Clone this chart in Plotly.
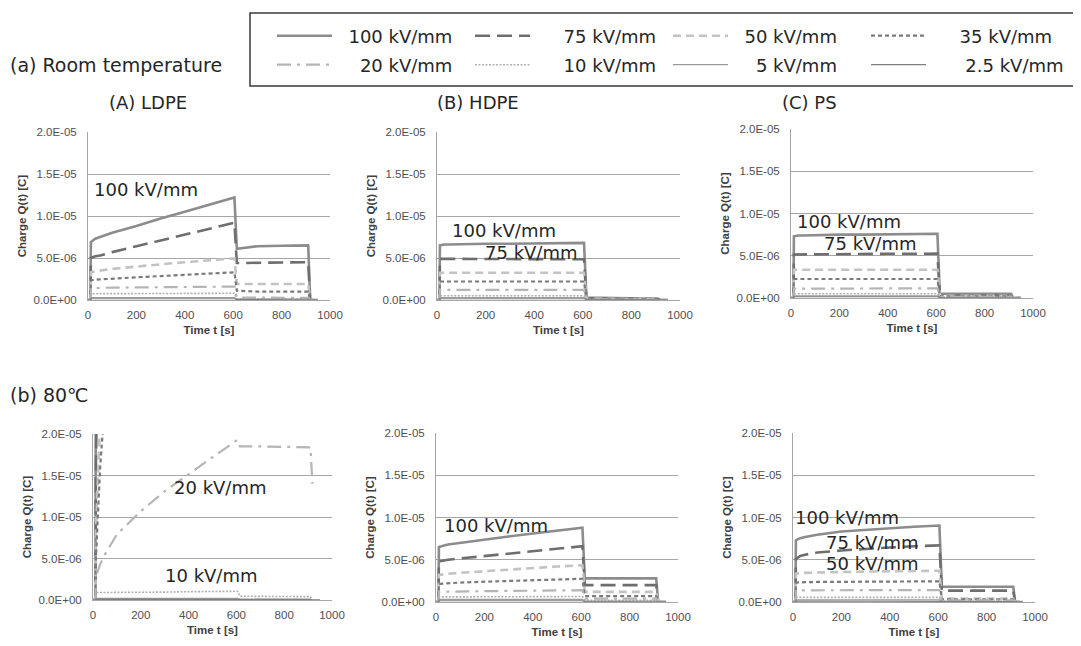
import plotly.graph_objects as go

# window size and the browser's default page margin the figure sits inside
WIN_W, WIN_H = 1081, 646
OX, OY = 8, 8
W, H = WIN_W - OX, WIN_H - OY

# ---------------- data (charge in units of 1e-6 C) ----------------
TIME_S = [0, 10, 12, 20, 30, 50, 100, 200, 300, 400, 500, 605, 615, 700, 800, 910, 918, 950]

FIELDS = ["100 kV/mm", "75 kV/mm", "50 kV/mm", "35 kV/mm",
          "20 kV/mm", "10 kV/mm", "5 kV/mm", "2.5 kV/mm"]

X_TICKS = [0, 200, 400, 600, 800, 1000]
Y_TICKS = [0, 5e-6, 1e-5, 1.5e-5, 2e-5]
Y_TICKTEXT = ["0.0E+00", "5.0E-06", "1.0E-05", "1.5E-05", "2.0E-05"]

# (a) Room temperature, (A) LDPE
LDPE_RT_uC = [
    [0, 0, 6.9, 7.1, 7.3, 7.5, 8.0, 8.8, 9.7, 10.5, 11.3, 12.2, 6.1, 6.4, 6.45, 6.5, 0, 0],
    [0, 0, 5.0, 5.1, 5.2, 5.3, 5.7, 6.4, 7.1, 7.8, 8.5, 9.2, 4.4, 4.45, 4.5, 4.5, 0, 0],
    [0, 0, 3.3, 3.35, 3.4, 3.5, 3.7, 4.0, 4.25, 4.5, 4.7, 4.95, 1.9, 1.9, 1.9, 1.9, 0, 0],
    [0, 0, 2.35, 2.4, 2.4, 2.45, 2.55, 2.7, 2.85, 3.0, 3.15, 3.3, 1.1, 1.0, 1.0, 1.0, 0, 0],
    [0, 0, 1.4, 1.42, 1.44, 1.45, 1.47, 1.5, 1.52, 1.55, 1.57, 1.6, 0.3, 0.28, 0.27, 0.25, 0, 0],
    [0, 0, 0.75, 0.75, 0.76, 0.76, 0.77, 0.78, 0.79, 0.8, 0.8, 0.8, 0.15, 0.15, 0.15, 0.15, 0, 0],
    [0, 0, 0.3, 0.3, 0.3, 0.3, 0.3, 0.3, 0.3, 0.3, 0.3, 0.3, 0.1, 0.1, 0.1, 0.1, 0, 0],
    [0, 0, 0.15, 0.15, 0.15, 0.15, 0.15, 0.15, 0.15, 0.15, 0.15, 0.15, 0.05, 0.05, 0.05, 0.05, 0, 0],
]
# (a) Room temperature, (B) HDPE
HDPE_RT_uC = [
    [0, 0, 6.5, 6.55, 6.6, 6.6, 6.65, 6.7, 6.7, 6.75, 6.8, 6.8, 0.3, 0.25, 0.2, 0.15, 0, 0],
    [0, 0, 4.9, 4.9, 4.9, 4.9, 4.9, 4.9, 4.88, 4.87, 4.86, 4.85, 0.2, 0.18, 0.15, 0.12, 0, 0],
    [0, 0, 3.25, 3.25, 3.25, 3.25, 3.25, 3.25, 3.25, 3.25, 3.25, 3.25, 0.15, 0.13, 0.12, 0.1, 0, 0],
    [0, 0, 2.2, 2.2, 2.2, 2.2, 2.2, 2.2, 2.2, 2.2, 2.2, 2.2, 0.12, 0.1, 0.1, 0.08, 0, 0],
    [0, 0, 1.2, 1.2, 1.2, 1.2, 1.2, 1.2, 1.2, 1.2, 1.2, 1.2, 0.1, 0.08, 0.08, 0.06, 0, 0],
    [0, 0, 0.5, 0.5, 0.5, 0.5, 0.5, 0.5, 0.5, 0.5, 0.5, 0.5, 0.08, 0.07, 0.06, 0.05, 0, 0],
    [0, 0, 0.3, 0.3, 0.3, 0.3, 0.3, 0.3, 0.3, 0.3, 0.3, 0.3, 0.05, 0.05, 0.05, 0.05, 0, 0],
    [0, 0, 0.15, 0.15, 0.15, 0.15, 0.15, 0.15, 0.15, 0.15, 0.15, 0.15, 0.05, 0.05, 0.05, 0.05, 0, 0],
]
# (a) Room temperature, (C) PS
PS_RT_uC = [
    [0, 0, 7.3, 7.35, 7.4, 7.4, 7.45, 7.5, 7.5, 7.55, 7.6, 7.6, 0.5, 0.5, 0.5, 0.5, 0, 0],
    [0, 0, 5.15, 5.15, 5.17, 5.18, 5.2, 5.2, 5.22, 5.23, 5.24, 5.25, 0.3, 0.3, 0.3, 0.3, 0, 0],
    [0, 0, 3.35, 3.35, 3.35, 3.35, 3.35, 3.35, 3.35, 3.35, 3.35, 3.35, 0.25, 0.25, 0.25, 0.25, 0, 0],
    [0, 0, 2.25, 2.25, 2.25, 2.25, 2.25, 2.25, 2.25, 2.25, 2.25, 2.25, 0.2, 0.2, 0.2, 0.2, 0, 0],
    [0, 0, 1.1, 1.1, 1.1, 1.1, 1.11, 1.12, 1.13, 1.14, 1.15, 1.15, 0.15, 0.15, 0.15, 0.15, 0, 0],
    [0, 0, 0.5, 0.5, 0.5, 0.5, 0.5, 0.5, 0.5, 0.5, 0.5, 0.5, 0.1, 0.1, 0.1, 0.1, 0, 0],
    [0, 0, 0.25, 0.25, 0.25, 0.25, 0.25, 0.25, 0.25, 0.25, 0.25, 0.25, 0.05, 0.05, 0.05, 0.05, 0, 0],
    [0, 0, 0.15, 0.15, 0.15, 0.15, 0.15, 0.15, 0.15, 0.15, 0.15, 0.15, 0.05, 0.05, 0.05, 0.05, 0, 0],
]
# (b) 80 C, (A) LDPE  (None = beyond the shown record)
LDPE_80_uC = [
    [0, 0, 30, None, None, None, None, None, None, None, None, None, None, None, None, None, None, None],
    [0, 0, 16, 30, None, None, None, None, None, None, None, None, None, None, None, None, None, None],
    [0, 0, 8, 15, 22, None, None, None, None, None, None, None, None, None, None, None, None, None],
    [0, 0, 5, 10, 16, 24, None, None, None, None, None, None, None, None, None, None, None, None],
    [0, 0, 2.5, 3.5, 4.3, 5.5, 7.9, 10.7, 13.1, 15.2, 17.2, 19.3, 18.5, 18.5, 18.45, 18.4, 14.0, None],
    [0, 0, 0.9, 0.9, 0.9, 0.9, 0.9, 0.95, 0.95, 1.0, 1.0, 1.05, 0.45, 0.45, 0.42, 0.4, 0, 0],
    [0, 0, 0.2, 0.2, 0.2, 0.2, 0.2, 0.2, 0.2, 0.2, 0.2, 0.2, 0.1, 0.1, 0.1, 0.1, 0, 0],
    [0, 0, 0.1, 0.1, 0.1, 0.1, 0.1, 0.1, 0.1, 0.1, 0.1, 0.1, 0.05, 0.05, 0.05, 0.05, 0, 0],
]
# (b) 80 C, (B) HDPE
HDPE_80_uC = [
    [0, 0, 6.5, 6.6, 6.65, 6.8, 7.0, 7.4, 7.75, 8.1, 8.45, 8.8, 2.8, 2.8, 2.8, 2.8, 0, 0],
    [0, 0, 4.8, 4.85, 4.9, 5.0, 5.15, 5.45, 5.75, 6.05, 6.35, 6.6, 2.0, 2.0, 2.0, 2.0, 0, 0],
    [0, 0, 3.2, 3.25, 3.3, 3.35, 3.45, 3.65, 3.85, 4.05, 4.2, 4.35, 1.2, 1.2, 1.2, 1.2, 0, 0],
    [0, 0, 2.15, 2.17, 2.2, 2.22, 2.3, 2.4, 2.5, 2.6, 2.68, 2.75, 0.7, 0.7, 0.7, 0.7, 0, 0],
    [0, 0, 1.2, 1.2, 1.2, 1.22, 1.25, 1.28, 1.31, 1.34, 1.37, 1.4, 0.4, 0.4, 0.4, 0.4, 0, 0],
    [0, 0, 0.6, 0.6, 0.6, 0.6, 0.6, 0.61, 0.62, 0.63, 0.64, 0.65, 0.2, 0.2, 0.2, 0.2, 0, 0],
    [0, 0, 0.3, 0.3, 0.3, 0.3, 0.3, 0.3, 0.3, 0.3, 0.3, 0.3, 0.1, 0.1, 0.1, 0.1, 0, 0],
    [0, 0, 0.15, 0.15, 0.15, 0.15, 0.15, 0.15, 0.15, 0.15, 0.15, 0.15, 0.05, 0.05, 0.05, 0.05, 0, 0],
]
# (b) 80 C, (C) PS
PS_80_uC = [
    [0, 0, 7.3, 7.45, 7.55, 7.7, 7.95, 8.35, 8.55, 8.75, 8.9, 9.05, 1.8, 1.8, 1.8, 1.8, 0, 0],
    [0, 0, 5.1, 5.3, 5.45, 5.6, 5.85, 6.1, 6.3, 6.45, 6.6, 6.7, 1.35, 1.35, 1.35, 1.35, 0, 0],
    [0, 0, 3.35, 3.4, 3.42, 3.45, 3.5, 3.55, 3.6, 3.63, 3.67, 3.7, 0.4, 0.4, 0.4, 0.4, 0, 0],
    [0, 0, 2.3, 2.32, 2.33, 2.35, 2.37, 2.4, 2.42, 2.43, 2.44, 2.45, 0.3, 0.3, 0.3, 0.3, 0, 0],
    [0, 0, 1.38, 1.38, 1.38, 1.38, 1.39, 1.39, 1.4, 1.4, 1.41, 1.42, 0.2, 0.2, 0.2, 0.2, 0, 0],
    [0, 0, 0.55, 0.55, 0.55, 0.55, 0.55, 0.55, 0.55, 0.55, 0.55, 0.55, 0.1, 0.1, 0.1, 0.1, 0, 0],
    [0, 0, 0.25, 0.25, 0.25, 0.25, 0.25, 0.25, 0.25, 0.25, 0.25, 0.25, 0.05, 0.05, 0.05, 0.05, 0, 0],
    [0, 0, 0.12, 0.12, 0.12, 0.12, 0.12, 0.12, 0.12, 0.12, 0.12, 0.12, 0.05, 0.05, 0.05, 0.05, 0, 0],
]

PANEL_DATA = [LDPE_RT_uC, HDPE_RT_uC, PS_RT_uC, LDPE_80_uC, HDPE_80_uC, PS_80_uC]

# in-plot labels: (panel index, text, time, charge in 1e-6 C)
LABELS = [
    (0, "100 kV/mm", 16, 13.2),
    (1, "100 kV/mm", 53, 8.3),
    (1, "75 kV/mm", 189, 5.7),
    (2, "100 kV/mm", 16, 9.0),
    (2, "75 kV/mm", 128, 6.4),
    (3, "20 kV/mm", 331, 13.5),
    (3, "10 kV/mm", 293, 2.9),
    (4, "100 kV/mm", 25, 9.0),
    (5, "100 kV/mm", 0, 10.05),
    (5, "75 kV/mm", 128, 7.0),
    (5, "50 kV/mm", 128, 4.5),
]

# ---------------- styles / layout ----------------
STYLES = [
    dict(color="#8c8c8c", width=2.6, dash="solid"),
    dict(color="#6e6e6e", width=2.6, dash="15px,7px"),
    dict(color="#c3c3c3", width=2.6, dash="8px,5px"),
    dict(color="#7a7a7a", width=2.2, dash="4px,3px"),
    dict(color="#b5b5b5", width=2.2, dash="14px,6px,3px,6px"),
    dict(color="#b0b0b0", width=1.6, dash="2px,1.5px"),
    dict(color="#9a9a9a", width=1.2, dash="solid"),
    dict(color="#7f7f7f", width=1.2, dash="solid"),
]
LEGEND_PAD = [2, 5, 2, 5, 4, 5, 4, 6]   # spacer count between legend sample and its text

# plot-area boxes in window pixels: (left, right, top, bottom)
BOXES = [
    (88, 330, 132, 300),
    (437, 680, 132, 300),
    (791, 1033, 129, 298),
    (93, 332, 434, 600),
    (436, 678, 433, 602),
    (793, 1035, 433, 602),
]


def px_x(px):
    return (px - OX) / W


def px_y(py):
    return 1 - (py - OY) / H


TICK_FONT = dict(family="Liberation Sans, Arial, sans-serif", size=11.5, color="#505050")
TITLE_FONT = dict(family="Liberation Sans Narrow, Liberation Sans, Arial, sans-serif",
                  size=11.5, color="#404040", weight="bold")
TEXT_FONT = dict(family="DejaVu Sans, Verdana, sans-serif", size=18, color="#262626")
NBSP = "\u00a0"

fig = go.Figure()

for p, panel in enumerate(PANEL_DATA):
    sfx = "" if p == 0 else str(p + 1)
    for k, row in enumerate(panel):
        yvals = [None if v is None else v * 1e-6 for v in row]
        fig.add_trace(go.Scatter(
            x=TIME_S, y=yvals, mode="lines",
            name=NBSP * LEGEND_PAD[k] + FIELDS[k],
            line=STYLES[k],
            xaxis="x" + sfx, yaxis="y" + sfx,
            showlegend=(p == 0),
            legend="legend" if k < 4 else "legend2",
            connectgaps=False,
            hoverinfo="skip",
        ))

layout = dict(
    width=W, height=H,
    margin=dict(l=0, r=0, t=0, b=0, autoexpand=False),
    paper_bgcolor="white", plot_bgcolor="white",
    showlegend=True,
)

for p, (l, r, t, b) in enumerate(BOXES):
    sfx = "" if p == 0 else str(p + 1)
    layout["xaxis" + sfx] = dict(
        domain=[px_x(l), px_x(r)], range=[0, 1000], tickvals=X_TICKS,
        showgrid=False, zeroline=False, showline=True, linecolor="#a6a6a6", linewidth=1,
        ticks="", tickfont=TICK_FONT, ticklabelstandoff=4, automargin=False,
        title=dict(text="Time t [s]", font=TITLE_FONT, standoff=6),
        anchor="y" + sfx, fixedrange=True,
    )
    layout["yaxis" + sfx] = dict(
        domain=[px_y(b), px_y(t)], range=[0, 2.0e-5], tickvals=Y_TICKS, ticktext=Y_TICKTEXT,
        showgrid=True, gridcolor="#a6a6a6", gridwidth=1,
        zeroline=False, showline=True, linecolor="#a6a6a6", linewidth=1,
        ticks="outside", ticklen=8, tickcolor="rgba(0,0,0,0)",
        tickfont=TICK_FONT, automargin=False,
        title=dict(text="Charge Q(t) [C]", font=TITLE_FONT, standoff=4),
        anchor="x" + sfx, fixedrange=True,
    )

legend_common = dict(
    orientation="h", xanchor="left", yanchor="middle",
    font=TEXT_FONT, itemwidth=55, entrywidth=128, entrywidthmode="pixels",
    bgcolor="rgba(0,0,0,0)", borderwidth=0, traceorder="normal",
)
layout["legend"] = dict(legend_common, x=px_x(272), y=px_y(36))
layout["legend2"] = dict(legend_common, x=px_x(272), y=px_y(65))

annotations = []
for p, text, tx, qy in LABELS:
    sfx = "" if p == 0 else str(p + 1)
    annotations.append(dict(
        x=tx, y=qy * 1e-6, xref="x" + sfx, yref="y" + sfx, text=text,
        showarrow=False, xanchor="left", yanchor="middle", font=TEXT_FONT,
    ))

HEADERS = [
    ("(a) Room temperature", 8, 65, 19),
    ("(A) LDPE", 107, 102, 18),
    ("(B) HDPE", 435, 102, 18),
    ("(C) PS", 780, 103, 18),
    ("(b) 80\u2103", 8, 395, 19),
]
for text, hx, hy, fs in HEADERS:
    annotations.append(dict(
        x=px_x(hx), y=px_y(hy), xref="paper", yref="paper", text=text,
        showarrow=False, xanchor="left", yanchor="middle",
        font=dict(TEXT_FONT, size=fs),
    ))
layout["annotations"] = annotations

layout["shapes"] = [dict(
    type="rect", xref="paper", yref="paper",
    x0=px_x(250), x1=px_x(1080), y0=px_y(86), y1=px_y(13),
    line=dict(color="#3a3a3a", width=1.5), fillcolor="rgba(0,0,0,0)",
)]

fig.update_layout(**layout)
fig.write_html("out.html")
